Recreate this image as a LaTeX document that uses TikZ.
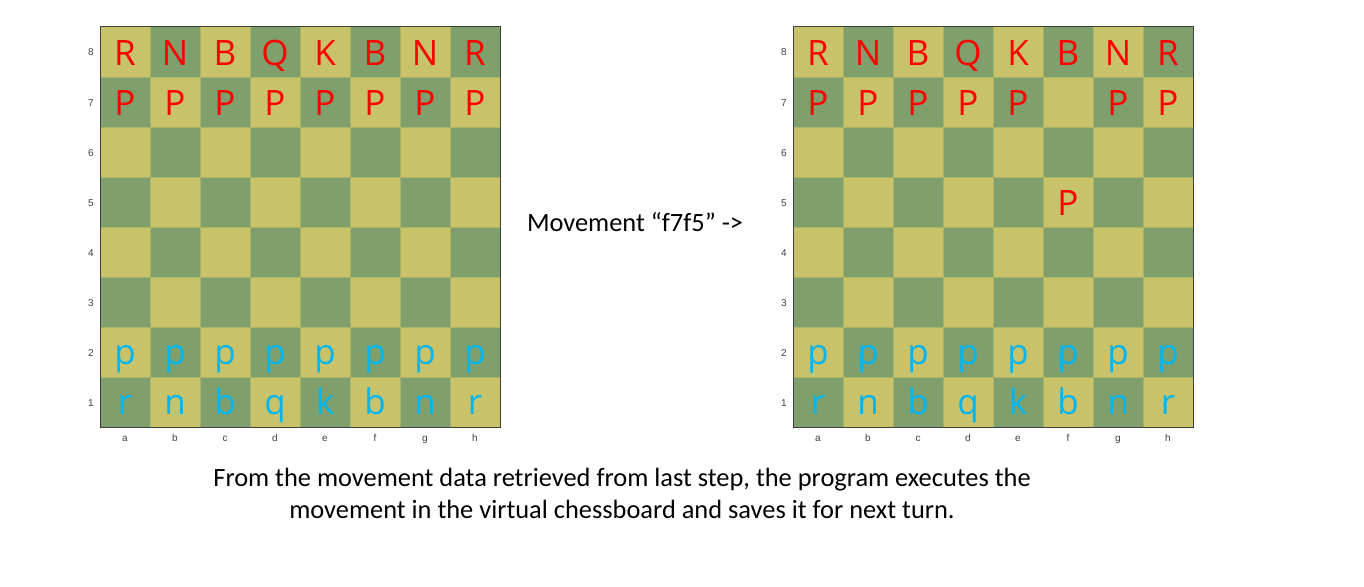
\documentclass[tikz,border=0pt]{standalone}
\usepackage{fontspec}
\setmainfont{Carlito}
\newfontfamily\piecefont{Open Sans}
\newfontfamily\labelfont{Liberation Sans}
\usetikzlibrary{positioning}
\definecolor{sqlight}{RGB}{200,195,106}
\definecolor{sqdark}{RGB}{127,160,108}
\definecolor{sqline}{RGB}{170,180,100}
\definecolor{piecered}{RGB}{255,0,0}
\definecolor{pieceblue}{RGB}{0,182,240}

\begin{document}
\begin{tikzpicture}[
  x=1pt, y=-1pt,
  upper/.style={anchor=base, text=piecered, inner sep=0pt, font=\piecefont\fontsize{35}{35}\selectfont},
  lower/.style={anchor=base, text=pieceblue, inner sep=0pt, font=\piecefont\fontsize{35}{35}\selectfont},
  coord/.style={text=black!75, inner sep=0pt, anchor=base, font=\labelfont\fontsize{10}{10}\selectfont},
  caption/.style={align=center, inner sep=0pt, font=\fontsize{26.4}{32}\selectfont},
]
  % --- page frame ---
  \useasboundingbox (0,0) rectangle (1364,586);
  \fill[white] (0,0) rectangle (1364,586);

  % --- boards: L = before, R = after ---
  \foreach \bx/\bn in {100/L,793/R}{
    \foreach \i in {0,...,7}{
      \foreach \j in {0,...,7}{
        \pgfmathsetmacro{\shade}{mod(\i+\j,2)==0 ? "sqlight" : "sqdark"}
        \fill[\shade] (\bx+50*\i,27+50*\j) rectangle ++(50,50);
      }
    }
    \foreach \k in {1,...,7}{
      \draw[sqline, line width=0.8pt] (\bx+50*\k,27) -- ++(0,400);
      \draw[sqline, line width=0.8pt] (\bx,27+50*\k) -- ++(400,0);
    }
    \draw[black!75, line width=1pt] (\bx,27) rectangle ++(400,400);

    % --- coordinates ---
    \foreach \r in {1,...,8}
      \node[coord] (\bn-rank\r) at (\bx-9,456-50*\r) {\r};
    \foreach \f [count=\i from 0] in {a,b,c,d,e,f,g,h}
      \node[coord] (\bn-file\f) at (\bx+25+50*\i,441) {\f};

    % --- white (lower case) pieces ---
    \foreach \f/\pc [count=\i from 0] in {a/r,b/n,c/b,d/q,e/k,f/b,g/n,h/r}{
      \node[lower] (\bn-\f1) at (\bx+25+50*\i,414) {\pc};
      \node[lower] (\bn-\f2) at (\bx+25+50*\i,364) {p};
    }
    % --- black (upper case) back rank ---
    \foreach \f/\pc [count=\i from 0] in {a/R,b/N,c/B,d/Q,e/K,f/B,g/N,h/R}
      \node[upper] (\bn-\f8) at (\bx+25+50*\i,65) {\pc};
  }

  % --- black pawns ---
  \foreach \f [count=\i from 0] in {a,b,c,d,e,f,g,h}
    \node[upper] (L-\f7) at (125+50*\i,115) {P};
  \foreach \f/\i in {a/0,b/1,c/2,d/3,e/4,g/6,h/7}
    \node[upper] (R-\f7) at (818+50*\i,115) {P};
  \node[upper] (R-f5) at (1068,215) {P};

  % --- texts ---
  \node[caption] (move) at (635,222) {Movement “f7f5” ->};
  \node[caption] (note) at (622,493)
    {From the movement data retrieved from last step, the program executes the\\
     movement in the virtual chessboard and saves it for next turn.};
\end{tikzpicture}
\end{document}
